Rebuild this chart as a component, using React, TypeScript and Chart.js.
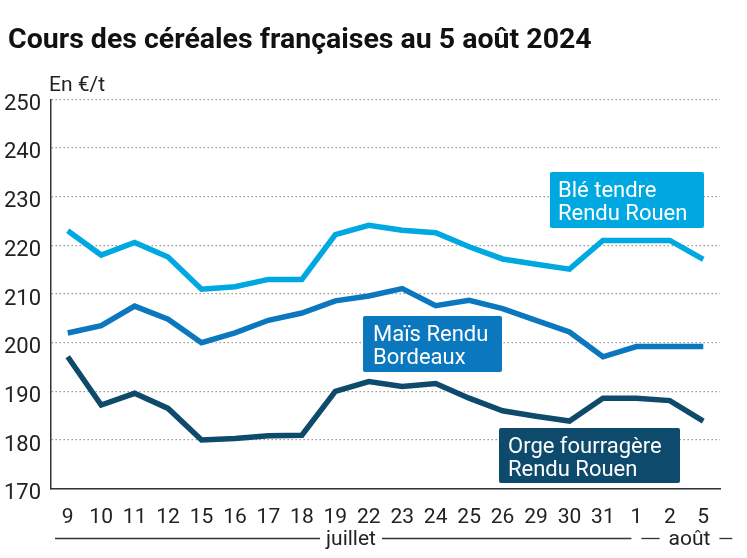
import React, { useEffect, useRef } from "react";
import { Chart, registerables } from "chart.js";

Chart.register(...registerables);

const categories = ["9", "10", "11", "12", "15", "16", "17", "18", "19", "22", "23", "24", "25", "26", "29", "30", "31", "1", "2", "5"];
const bleTendre = [223, 218, 220.6, 217.6, 211, 211.5, 213, 213, 222.2, 224.1, 223.1, 222.6, 219.7, 217.2, 216.1, 215.1, 221, 221, 221, 217.1];
const maisBordeaux = [202, 203.5, 207.5, 204.8, 200, 202, 204.6, 206.1, 208.6, 209.6, 211.1, 207.6, 208.7, 207, 204.6, 202.2, 197.1, 199.2, 199.2, 199.2];
const orgeFourragere = [197.1, 187.2, 189.6, 186.5, 180, 180.3, 180.9, 181, 190, 192, 191, 191.6, 188.6, 186, 184.9, 183.9, 188.6, 188.6, 188.1, 183.9];
const yTicks = [170, 180, 190, 200, 210, 220, 230, 240, 250];

const TITLE = "Cours des céréales françaises au 5 août 2024";
const UNIT = "En €/t";

const COLORS = { ble: "#00a8e1", mais: "#0a77be", orge: "#0e4a6b" };

const labelBoxes = [
  { lines: ["Blé tendre", "Rendu Rouen"], color: COLORS.ble, x: 550, y: 172, w: 154, h: 56, tx: 558, b1: 197, b2: 220 },
  { lines: ["Maïs Rendu", "Bordeaux"], color: COLORS.mais, x: 363, y: 316, w: 139, h: 56, tx: 373, b1: 340.5, b2: 363.5 },
  { lines: ["Orge fourragère", "Rendu Rouen"], color: COLORS.orge, x: 499, y: 428, w: 181, h: 55, tx: 508, b1: 453, b2: 476 },
];

const FONT = "Roboto, 'Noto Sans', sans-serif";

const decorPlugin = {
  id: "decor",
  afterDraw(chart: any) {
    const ctx = chart.ctx as CanvasRenderingContext2D;
    ctx.save();
    // title
    ctx.fillStyle = "#111";
    ctx.textBaseline = "alphabetic";
    ctx.textAlign = "left";
    ctx.font = `bold 28.5px ${FONT}`;
    ctx.fillText(TITLE, 8, 48);
    // unit
    ctx.font = `21px ${FONT}`;
    ctx.fillStyle = "#222";
    ctx.fillText(UNIT, 49, 91);
    // label boxes
    for (const b of labelBoxes) {
      ctx.fillStyle = b.color;
      ctx.beginPath();
      (ctx as any).roundRect ? (ctx as any).roundRect(b.x, b.y, b.w, b.h, 2) : ctx.rect(b.x, b.y, b.w, b.h);
      ctx.fill();
      ctx.fillStyle = "#ffffff";
      ctx.font = `22px ${FONT}`;
      ctx.fillText(b.lines[0], b.tx, b.b1);
      ctx.fillText(b.lines[1], b.tx, b.b2);
    }
    // month row
    const xs = chart.scales.x;
    const x0 = xs.getPixelForValue(0);
    const x17 = xs.getPixelForValue(17);
    const x19 = xs.getPixelForValue(19);
    const ly = 538.5;
    ctx.strokeStyle = "#333";
    ctx.lineWidth = 1.3;
    ctx.font = `21px ${FONT}`;
    ctx.fillStyle = "#222";
    ctx.textAlign = "center";
    const seg = (a: number, b: number) => {
      ctx.beginPath();
      ctx.moveTo(a, ly);
      ctx.lineTo(b, ly);
      ctx.stroke();
    };
    const julC = 351;
    const julW = ctx.measureText("juillet").width;
    seg(x0 - 12.7, julC - julW / 2 - 6);
    seg(julC + julW / 2 + 6, x17 - 5);
    ctx.fillText("juillet", julC, 545);
    const aouC = 689.5;
    const aouW = ctx.measureText("août").width;
    seg(x17 + 5, aouC - aouW / 2 - 9);
    seg(aouC + aouW / 2 + 9, x19 + 29);
    ctx.fillText("août", aouC, 545);
    ctx.restore();
  },
};

export default function App() {
  const ref = useRef<HTMLCanvasElement>(null);
  useEffect(() => {
    const canvas = ref.current!;
    const chart = new Chart(canvas, {
      type: "line",
      data: {
        labels: categories,
        datasets: [
          { label: "Blé tendre Rendu Rouen", data: bleTendre, borderColor: COLORS.ble, backgroundColor: COLORS.ble },
          { label: "Maïs Rendu Bordeaux", data: maisBordeaux, borderColor: COLORS.mais, backgroundColor: COLORS.mais },
          { label: "Orge fourragère Rendu Rouen", data: orgeFourragere, borderColor: COLORS.orge, backgroundColor: COLORS.orge },
        ],
      },
      options: {
        responsive: false,
        animation: false,
        devicePixelRatio: 1,
        layout: { padding: { left: 0, right: 27, top: 99.3, bottom: 0 } },
        elements: {
          line: { borderWidth: 5.5, tension: 0, borderCapStyle: "butt", borderJoinStyle: "miter" },
          point: { radius: 0, hoverRadius: 0 },
        },
        plugins: { legend: { display: false }, title: { display: false }, tooltip: { enabled: false } },
        scales: {
          x: {
            type: "category",
            offset: true,
            grid: { display: false },
            border: { display: true, color: "#333", width: 1.5 },
            ticks: { color: "#222", font: { family: FONT, size: 21 }, padding: 8, maxRotation: 0, autoSkip: false },
            afterFit: (s: any) => { s.height = 69.3; },
          },
          y: {
            min: 170,
            max: 250,
            afterBuildTicks: (s: any) => { s.ticks = yTicks.map((v) => ({ value: v })); },
            grid: { color: "#9a9a9a", lineWidth: 1.2, drawTicks: false },
            border: { display: true, color: "#333", width: 1.5, dash: [1.5, 2.5] } as any,
            ticks: { color: "#222", font: { family: FONT, size: 22 }, padding: 10, labelOffset: 5 },
            afterFit: (s: any) => { s.width = 51; },
          },
        },
      },
      plugins: [decorPlugin],
    });
    return () => chart.destroy();
  }, []);
  return (
    <div style={{ position: "absolute", left: 0, top: 0, width: 747, height: 558, background: "#fff" }}>
      <canvas ref={ref} width={747} height={558} />
    </div>
  );
}
